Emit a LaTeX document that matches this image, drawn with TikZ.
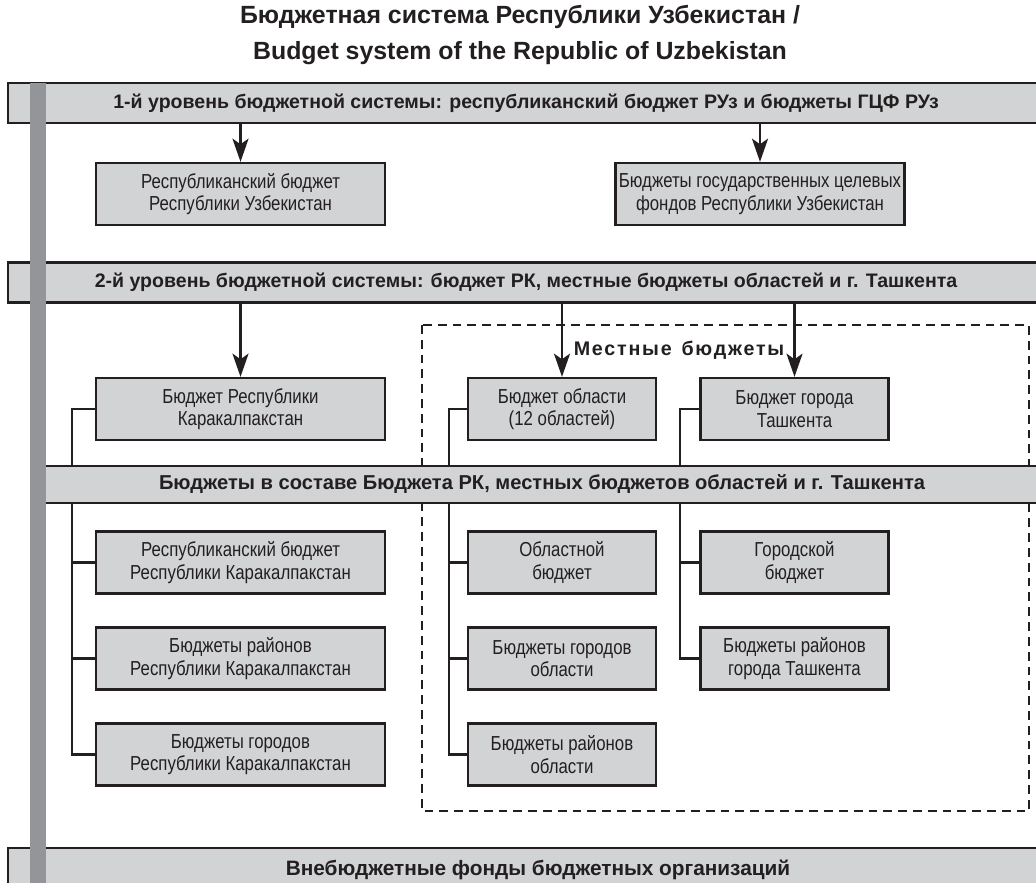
\documentclass[tikz,border=0pt]{standalone}
\usepackage{fontspec}
\setmainfont{Liberation Sans}
\newfontfamily\boxfont{Liberation Sans}[FakeStretch = 0.83]
\usetikzlibrary{arrows.meta}

\definecolor{boxgray}{RGB}{209,211,212}
\definecolor{bargray}{RGB}{147,149,152}
\definecolor{ink}{RGB}{35,31,32}

\tikzset{
  budgetbox/.style = {draw = ink, line width = 1.6pt, fill = boxgray, text = ink,
    minimum width = 7.225cm, minimum height = 1.55cm, inner sep = 0pt,
    align = center, font = \boxfont\fontsize{14.4}{16}\selectfont},
  smallbox/.style = {budgetbox, minimum width = 4.7cm},
  levelbar/.style = {draw = ink, line width = 1.6pt, fill = boxgray, text = ink,
    minimum width = 25.9cm, minimum height = 1cm, inner sep = 0pt,
    font = \bfseries\fontsize{13.9}{16}\selectfont},
  feed/.style = {draw = ink, line width = 1.7pt,
    -{Stealth[length = 5.8mm, width = 4mm, inset = 1.4mm]}},
  link/.style = {draw = ink, line width = 1.6pt}
}

\begin{document}
\begin{tikzpicture}[x = 0.025cm, y = -0.025cm]
    \useasboundingbox (0,0) rectangle (1036,882);
    \clip (0,0) rectangle (1036,882);

    % title
    \node [font = \bfseries\fontsize{17.7}{25}\selectfont, align = center, text = ink] (title) at (520,35)
      {Бюджетная система Республики Узбекистан /\\Budget system of the Republic of Uzbekistan};

    % local budgets frame
    \draw [ink, line width = 1.2pt, dash pattern = on 0.22cm off 0.15cm] (422,325) rectangle (1029,811);
    \node [font = \bfseries\fontsize{14}{16}\selectfont\addfontfeature{LetterSpace = 9}, text = ink] (local) at (679,350)
      {Местные\hspace{0.5em}бюджеты};

    % level 1
    \node [levelbar] (lvlA) at (526,103)
      {1-й уровень бюджетной системы: республиканский бюджет РУз и бюджеты ГЦФ РУз};
    \node [budgetbox] (repUz) at (240.5,194) {Республиканский бюджет\\Республики Узбекистан};
    \node [budgetbox] (funds) at (760,194) {Бюджеты государственных целевых\\фондов Республики Узбекистан};

    % level 2
    \node [levelbar] (lvlB) at (526,282.5)
      {2-й уровень бюджетной системы: бюджет РК, местные бюджеты областей и г. Ташкента};
    \node [budgetbox] (rk) at (240.5,409) {Бюджет Республики\\Каракалпакстан};
    \node [smallbox] (obl) at (562,409) {Бюджет области\\(12 областей)};
    \node [smallbox] (tash) at (794.5,409) {Бюджет города\\Ташкента};

    % budgets inside
    \node [levelbar, minimum width = 25.1cm, minimum height = 0.925cm, font = \bfseries\fontsize{14.3}{16}\selectfont] (lvlC) at (542,484.5)
      {Бюджеты в составе Бюджета РК, местных бюджетов областей и г. Ташкента};
    \node [budgetbox] (rkRep) at (240.5,562.5) {Республиканский бюджет\\Республики Каракалпакстан};
    \node [budgetbox] (rkDist) at (240.5,658.5) {Бюджеты районов\\Республики Каракалпакстан};
    \node [budgetbox] (rkCity) at (240.5,754.5) {Бюджеты городов\\Республики Каракалпакстан};
    \node [smallbox] (oblOwn) at (562,562.5) {Областной\\бюджет};
    \node [smallbox] (oblCity) at (562,658.5) {Бюджеты городов\\области};
    \node [smallbox] (oblDist) at (562,754.5) {Бюджеты районов\\области};
    \node [smallbox] (tashOwn) at (794.5,562.5) {Городской\\бюджет};
    \node [smallbox] (tashDist) at (794.5,658.5) {Бюджеты районов\\города Ташкента};

    % extra-budgetary
    \node [levelbar, minimum width = 26.5cm, minimum height = 1.1cm, font = \bfseries\fontsize{14.8}{16}\selectfont] (lvlD) at (538,870)
      {Внебюджетные фонды бюджетных организаций};

    % side strip
    \fill [bargray] (30,83) rectangle (46,890);

    % arrows
    \draw [feed] (lvlA.south -| repUz.north) -- (repUz.north);
    \draw [feed] (lvlA.south -| funds.north) -- (funds.north);
    \draw [feed] (lvlB.south -| rk.north) -- (rk.north);
    \draw [feed] (lvlB.south -| obl.north) -- (obl.north);
    \draw [feed] (lvlB.south -| tash.north) -- (tash.north);

    % buses
    \coordinate (rkBus) at (72,0);
    \coordinate (oblBus) at (449,0);
    \coordinate (tashBus) at (680,0);

    \draw [link] (rk.west) -| (rkBus |- lvlC.north);
    \draw [link] (obl.west) -| (oblBus |- lvlC.north);
    \draw [link] (tash.west) -| (tashBus |- lvlC.north);

    \draw [link] (rkCity.west) -| (rkBus |- lvlC.south);
    \draw [link] (rkRep.west) -- (rkBus |- rkRep.west);
    \draw [link] (rkDist.west) -- (rkBus |- rkDist.west);
    \draw [link] (oblDist.west) -| (oblBus |- lvlC.south);
    \draw [link] (oblOwn.west) -- (oblBus |- oblOwn.west);
    \draw [link] (oblCity.west) -- (oblBus |- oblCity.west);
    \draw [link] (tashDist.west) -| (tashBus |- lvlC.south);
    \draw [link] (tashOwn.west) -- (tashBus |- tashOwn.west);
\end{tikzpicture}
\end{document}
